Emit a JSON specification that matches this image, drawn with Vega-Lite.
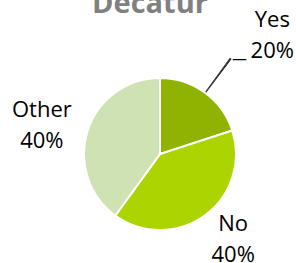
{
  "$schema": "https://vega.github.io/schema/vega-lite/v6.json",
  "autosize": "none",
  "width": 240,
  "height": 200,
  "padding": {"left": 40, "top": 54, "right": 16, "bottom": 9},
  "background": "white",
  "title": {"text": "Decatur", "font": "Open Sans", "fontSize": 29, "fontWeight": "bold", "color": "#808080", "anchor": "middle", "frame": "group", "dx": -10, "offset": 0, "dy": 33, "baseline": "alphabetic"},
  "data": {"values": [
    {"cat": "Yes", "value": 20, "idx": 1, "label": "Yes\n20%"},
    {"cat": "No", "value": 40, "idx": 2, "label": "No\n40%"},
    {"cat": "Other", "value": 40, "idx": 3, "label": "Other\n40%"}
  ]},
  "encoding": {
    "theta": {"field": "value", "type": "quantitative", "stack": true},
    "order": {"field": "idx", "type": "quantitative"}
  },
  "layer": [
    {
      "mark": {"type": "arc", "outerRadius": 76, "stroke": "white", "strokeWidth": 2},
      "encoding": {
        "color": {"field": "cat", "type": "nominal", "scale": {"domain": ["Yes", "No", "Other"], "range": ["#8fb300", "#acd400", "#cfe2b3"]}, "legend": null}
      }
    },
    {
      "mark": {"type": "arc", "innerRadius": 77, "outerRadius": 119, "color": "#000000"},
      "encoding": {
        "theta": {"field": "value", "type": "quantitative", "stack": true, "scale": {"range": [0.628, 0.645]}}
      }
    },
    {
      "mark": {"type": "text", "radius": 120, "dx": 9, "dy": 2, "font": "DejaVu Sans", "fontSize": 15, "align": "center", "baseline": "middle", "color": "#000000"},
      "encoding": {
        "text": {"condition": {"test": "datum.cat === 'Yes'", "value": "—"}, "value": ""}
      }
    },
    {
      "mark": {"type": "text", "radius": 140, "dx": 30, "dy": -21, "font": "Open Sans", "fontSize": 22, "lineBreak": "\n", "lineHeight": 31, "align": "center", "baseline": "middle", "color": "#000000"},
      "encoding": {
        "text": {"condition": {"test": "datum.cat === 'Yes'", "field": "label", "type": "nominal"}, "value": ""}
      }
    },
    {
      "mark": {"type": "text", "radius": 116, "dx": 5, "dy": -24, "font": "Open Sans", "fontSize": 22, "lineBreak": "\n", "lineHeight": 31, "align": "center", "baseline": "middle", "color": "#000000"},
      "encoding": {
        "text": {"condition": {"test": "datum.cat === 'No'", "field": "label", "type": "nominal"}, "value": ""}
      }
    },
    {
      "mark": {"type": "text", "radius": 120, "dx": -4, "dy": -7, "font": "Open Sans", "fontSize": 22, "lineBreak": "\n", "lineHeight": 31, "align": "center", "baseline": "middle", "color": "#000000"},
      "encoding": {
        "text": {"condition": {"test": "datum.cat === 'Other'", "field": "label", "type": "nominal"}, "value": ""}
      }
    }
  ],
  "resolve": {"scale": {"theta": "independent"}},
  "config": {"view": {"stroke": null}}
}
